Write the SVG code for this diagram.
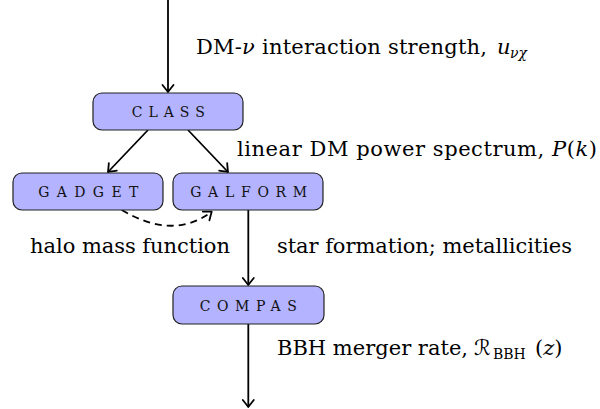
<svg xmlns="http://www.w3.org/2000/svg" width="600" height="409" viewBox="0 0 600 409">
<defs>
<marker id="ah" markerUnits="userSpaceOnUse" markerWidth="16" markerHeight="16" viewBox="-10 -8 12 16" refX="0" refY="0" orient="auto">
<path d="M-7,-5.5 Q-2,-1.5 0,0 Q-2,1.5 -7,5.5" fill="none" stroke="#000" stroke-width="1.8" stroke-linecap="round" stroke-linejoin="round"/>
</marker>
</defs>
<style>
.box{fill:#b3b3ff;stroke:#222;stroke-width:1.2}
.lbl{fill:#111;text-anchor:middle}
.edge{fill:none;stroke:#000;stroke-width:1.8;marker-end:url(#ah)}
</style>
<rect width="600" height="409" fill="#fff"/>
<g id="connectors">
<line class="edge" x1="168" y1="0" x2="168" y2="92"/>
<line class="edge" x1="148" y1="130" x2="108" y2="172"/>
<line class="edge" x1="188" y1="130" x2="228" y2="172"/>
<path class="edge" d="M121.7,210 Q173.4,240.6 211.7,211.7" stroke-dasharray="7,5"/>
<line class="edge" x1="248.3" y1="210" x2="248.3" y2="285"/>
<line class="edge" x1="248.3" y1="324" x2="248.3" y2="407"/>
</g>
<g id="node-class">
<rect class="box" x="93" y="93" width="150" height="37" rx="9"/>
<text class="lbl" x="168.3" y="117" font-family="DejaVu Serif" font-size="14" textLength="73" lengthAdjust="spacing">CLASS</text>
</g>
<g id="node-gadget">
<rect class="box" x="13" y="173" width="150" height="37" rx="9"/>
<text class="lbl" x="88.3" y="197" font-family="DejaVu Serif" font-size="14" textLength="100" lengthAdjust="spacing">GADGET</text>
</g>
<g id="node-galform">
<rect class="box" x="173" y="173" width="150" height="37" rx="9"/>
<text class="lbl" x="248.7" y="197" font-family="DejaVu Serif" font-size="14" textLength="117" lengthAdjust="spacing">GALFORM</text>
</g>
<g id="node-compas">
<rect class="box" x="173" y="286" width="151" height="38" rx="9"/>
<text class="lbl" x="248.3" y="311" font-family="DejaVu Serif" font-size="14" textLength="97" lengthAdjust="spacing">COMPAS</text>
</g>
<g id="labels">
<text x="196" y="54" font-family="DejaVu Serif" font-size="21" textLength="291" lengthAdjust="spacing">DM-<tspan font-family="DejaVu Serif" font-style="italic">ν</tspan> interaction strength,</text>
<text x="497" y="54" font-family="DejaVu Serif" font-size="21" font-style="italic">u</text>
<text x="510" y="58" font-family="DejaVu Serif" font-size="14" font-style="italic">νχ</text>
<text x="237" y="155.5" font-family="DejaVu Serif" font-size="21" textLength="360" lengthAdjust="spacing">linear DM power spectrum, <tspan font-family="DejaVu Serif" font-style="italic">P</tspan>(<tspan font-family="DejaVu Serif" font-style="italic">k</tspan>)</text>
<text x="30" y="253" font-family="DejaVu Serif" font-size="21" textLength="200" lengthAdjust="spacing">halo mass function</text>
<text x="277" y="253" font-family="DejaVu Serif" font-size="21" textLength="295" lengthAdjust="spacing">star formation; metallicities</text>
<text x="277" y="355" font-family="DejaVu Serif" font-size="21" textLength="191" lengthAdjust="spacing">BBH merger rate,</text>
<text x="474" y="355" font-family="DejaVu Serif, DejaVu Sans" font-size="21">ℛ</text>
<text x="493" y="359" font-family="DejaVu Serif" font-size="14">BBH</text>
<text x="535" y="355" font-family="DejaVu Serif" font-size="21">(<tspan font-family="DejaVu Serif" font-style="italic">z</tspan>)</text>
</g>
</svg>
